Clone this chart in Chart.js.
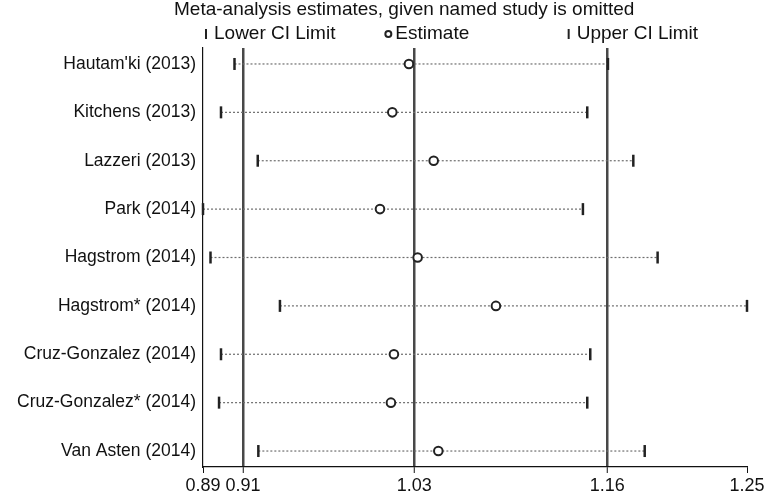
<!DOCTYPE html>
<html>
<head>
<meta charset="utf-8">
<script src="https://cdn.jsdelivr.net/npm/chart.js@4.4.1/dist/chart.umd.min.js"></script>
<style>
  html, body { margin: 0; padding: 0; background: #fff; }
  #wrap { width: 770px; height: 496px; }
</style>
</head>
<body>
<div id="wrap"><canvas id="myChart" width="770" height="496"></canvas></div>
<script>
// studies, top to bottom
const studies = [
    "Hautam'ki (2013)",
    "Kitchens (2013)",
    "Lazzeri (2013)",
    "Park (2014)",
    "Hagstrom (2014)",
    "Hagstrom* (2014)",
    "Cruz-Gonzalez (2014)",
    "Cruz-Gonzalez* (2014)",
    "Van Asten (2014)"
];
const lowerCI  = [0.908, 0.899, 0.9235, 0.887, 0.892, 0.9383, 0.899, 0.8977, 0.9239];
const estimate = [1.0243, 1.0132, 1.0408, 1.005, 1.0301, 1.0823, 1.0143, 1.0123, 1.0439];
const upperCI  = [1.157, 1.1432, 1.1739, 1.1403, 1.1901, 1.2497, 1.1452, 1.1432, 1.1815];

// axis ticks: min, overall lower, overall estimate, overall upper, max
const tickValues = [0.887, 0.9137, 1.0279, 1.1566, 1.2497];
const tickLabels = ["0.89", "0.91", "1.03", "1.16", "1.25"];

const titleText = "Meta-analysis estimates, given named study is omitted";
const legendItems = ["Lower CI Limit", "Estimate", "Upper CI Limit"];

const FONT = "'Liberation Sans', Arial, Helvetica, sans-serif";
const ctx = document.getElementById('myChart');

const rowY = (i) => i + 1;

const ciLines = studies.map((s, i) => ({
    type: 'line',
    label: s,
    data: [{ x: lowerCI[i], y: rowY(i) }, { x: upperCI[i], y: rowY(i) }],
    borderColor: '#6e6e6e',
    borderWidth: 1.2,
    borderDash: [2, 2],
    pointRadius: 0,
    order: 5
}));

const headerPlugin = {
    id: 'header',
    afterDraw(chart) {
        const c = chart.ctx;
        const area = chart.chartArea;
        c.save();
        c.fillStyle = '#111';
        c.textBaseline = 'middle';
        c.textAlign = 'left';
        c.font = `19px ${FONT}`;
        c.fillText(titleText, 174, 10);

        // legend in three columns over the plot area
        const colW = (area.right - area.left) / 3;
        legendItems.forEach((txt, i) => {
            const x0 = area.left + i * colW + 3;
            const y0 = 34;
            c.strokeStyle = '#222';
            c.lineWidth = 2;
            c.beginPath();
            if (i === 1) {
                c.arc(x0 + 1, y0, 3, 0, Math.PI * 2);
            } else {
                c.moveTo(x0, y0 - 5);
                c.lineTo(x0, y0 + 5);
            }
            c.stroke();
            c.fillText(txt, x0 + 8, y0);
        });
        c.restore();
    }
};

const config = {
    type: 'scatter',
    data: {
        datasets: [
            {
                label: 'Estimate',
                data: estimate.map((v, i) => ({ x: v, y: rowY(i) })),
                pointStyle: 'circle',
                pointRadius: 4.3,
                pointBorderWidth: 2,
                pointBorderColor: '#222',
                pointBackgroundColor: '#fff',
                clip: false,
                order: 0
            },
            {
                label: 'Lower CI Limit',
                data: lowerCI.map((v, i) => ({ x: v, y: rowY(i) })),
                pointStyle: 'line',
                rotation: 90,
                pointRadius: 6,
                pointBorderWidth: 2.5,
                pointBorderColor: '#222',
                clip: false,
                order: 1
            },
            {
                label: 'Upper CI Limit',
                data: upperCI.map((v, i) => ({ x: v, y: rowY(i) })),
                pointStyle: 'line',
                rotation: 90,
                pointRadius: 6,
                pointBorderWidth: 2.5,
                pointBorderColor: '#222',
                clip: false,
                order: 1
            },
            ...ciLines
        ]
    },
    options: {
        responsive: false,
        animation: false,
        layout: { padding: { top: 48, right: 23, left: 0, bottom: 0 } },
        plugins: {
            legend: { display: false },
            title: { display: false },
            tooltip: { enabled: false }
        },
        scales: {
            x: {
                type: 'linear',
                min: tickValues[0],
                max: tickValues[tickValues.length - 1],
                afterBuildTicks: (scale) => {
                    scale.ticks = tickValues.map(v => ({ value: v }));
                },
                afterFit: (scale) => { scale.height = 29; },
                ticks: {
                    color: '#111',
                    font: { family: FONT, size: 18 },
                    padding: 2,
                    maxRotation: 0,
                    autoSkip: false,
                    callback: (v, idx) => tickLabels[idx]
                },
                grid: {
                    drawOnChartArea: true,
                    color: (c) => (c.index === 0 || c.index === tickValues.length - 1) ? 'rgba(0,0,0,0)' : '#484848',
                    lineWidth: (c) => (c.index === 0 || c.index === tickValues.length - 1) ? 1 : 2.5,
                    tickColor: '#111',
                    tickWidth: 1,
                    tickLength: 6
                },
                border: { display: true, color: '#111', width: 1.2 }
            },
            y: {
                type: 'linear',
                reverse: true,
                min: 0.67,
                max: 9.33,
                afterBuildTicks: (scale) => {
                    scale.ticks = studies.map((s, i) => ({ value: rowY(i) }));
                },
                afterFit: (scale) => { scale.width = 203; },
                ticks: {
                    color: '#111',
                    font: { family: FONT, size: 17.5 },
                    padding: 7,
                    autoSkip: false,
                    callback: (v) => studies[Math.round(v) - 1]
                },
                grid: { display: false, drawTicks: false },
                border: { display: true, color: '#111', width: 1.2 }
            }
        }
    },
    plugins: [headerPlugin]
};

const graph = new Chart(ctx, config);
</script>
</body>
</html>
